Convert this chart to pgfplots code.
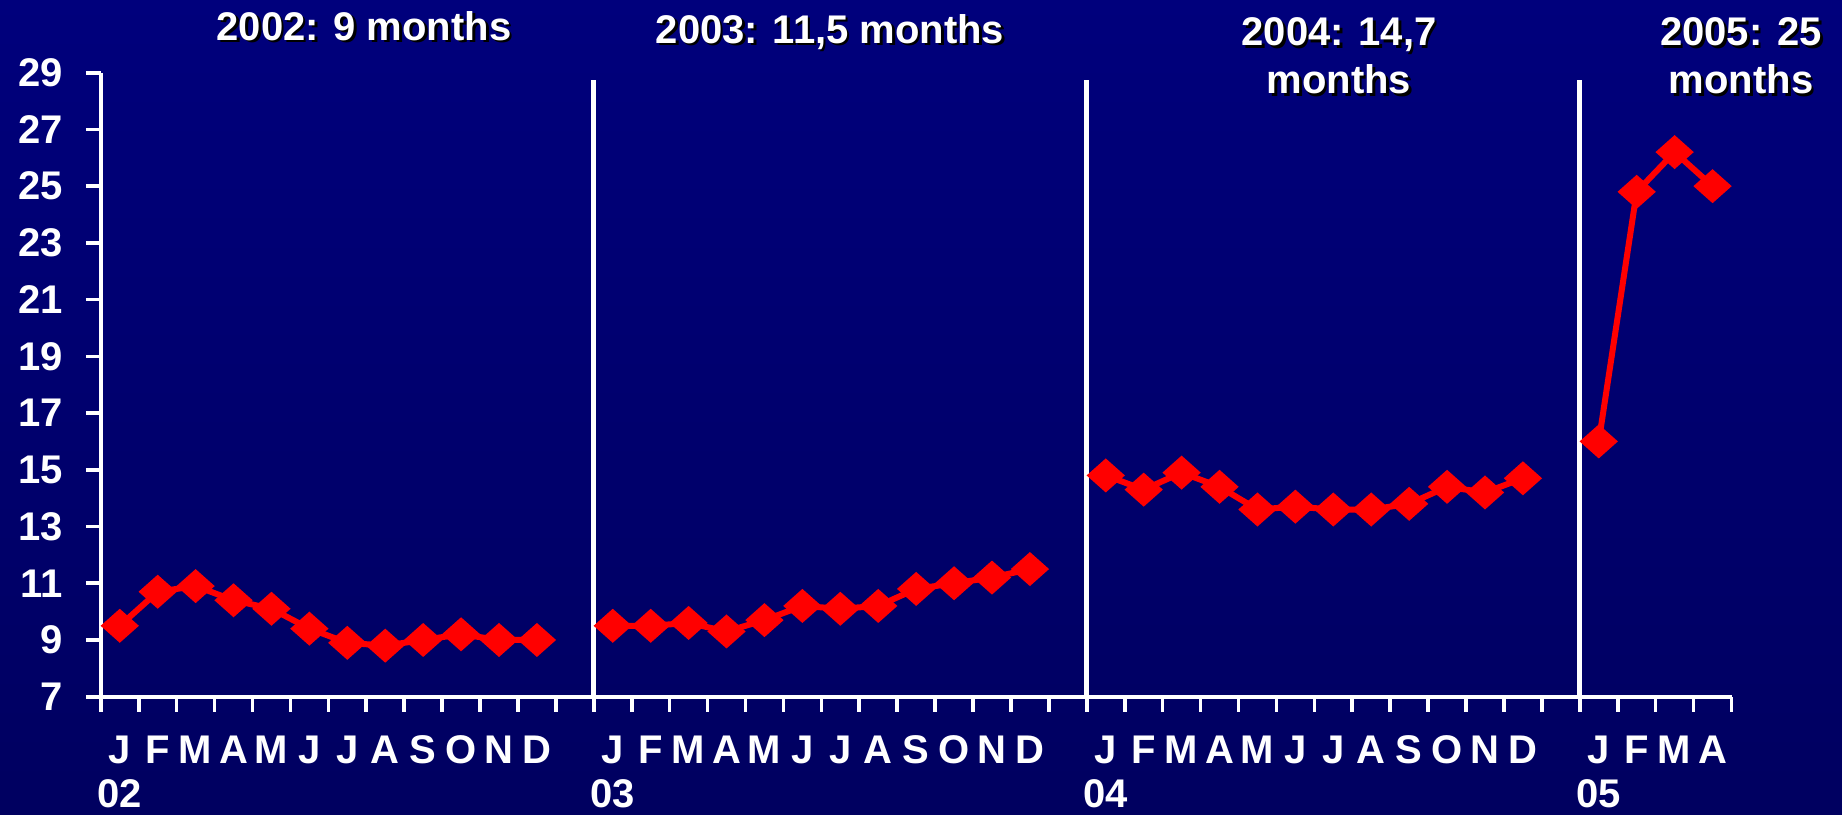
\documentclass[border=0pt]{standalone}
\usepackage{pgfplots}
\pgfplotsset{compat=1.18}
\usepackage{fontspec}
\setmainfont{Liberation Sans}
\definecolor{bgtop}{HTML}{00007C}
\definecolor{bgmid}{HTML}{00009A}
\definecolor{bgbot}{HTML}{000060}
\pgfplotsset{yearline/.style={color=red, line width=3pt, mark=diamond*, mark size=6.5pt, mark options={solid, fill=red, draw=none, xscale=1.5}}}
\newcommand{\titlefont}{\fontsize{20}{24}\selectfont\bfseries}
\newcommand{\shtitle}[2]{%
  \node[font=\titlefont, text=black, align=center, xshift=1.3pt, yshift=-1.3pt] at (#1) {#2};
  \node[font=\titlefont, text=white, align=center] at (#1) {#2};}
\begin{document}
\begin{tikzpicture}
\shade[top color=bgtop, middle color=bgmid, bottom color=bgbot] (0,0) rectangle (921pt,407pt);
\useasboundingbox (0,0) rectangle (921pt,407pt);
\begin{axis}[
  at={(50.4pt,58.65pt)}, anchor=south west,
  width=815.35pt, height=312pt, scale only axis,
  xmin=0, xmax=43, ymin=7, ymax=29,
  axis x line*=bottom, axis y line*=left,
  axis line style={white, line width=2pt, -},
  clip=false,
  ytick={7,9,...,29},
  xtick={0,1,...,43},
  x tick label as interval,
  xticklabels={{J\\02},F,M,A,M,J,J,A,S,O,N,D,{},
               {J\\03},F,M,A,M,J,J,A,S,O,N,D,{},
               {J\\04},F,M,A,M,J,J,A,S,O,N,D,{},
               {J\\05},F,M,A},
  tick align=outside,
  major tick length=7.5pt,
  every tick/.style={white, line width=1.8pt},
  /pgf/number format/assume math mode=true,
  ticklabel style={text=white},
  yticklabel style={font=\fontsize{20}{22}\selectfont\bfseries, xshift=-8pt},
  xticklabel style={font=\fontsize{20}{22}\selectfont\bfseries, align=center, yshift=-8.5pt},
]
\draw[white, line width=2.5pt] (axis cs:13,7) -- (axis cs:13,28.75);
\draw[white, line width=2.5pt] (axis cs:26,7) -- (axis cs:26,28.75);
\draw[white, line width=2.5pt] (axis cs:39,7) -- (axis cs:39,28.75);
\addplot[yearline] coordinates {(0.5,9.5) (1.5,10.7) (2.5,10.9) (3.5,10.4) (4.5,10.1) (5.5,9.4) (6.5,8.9) (7.5,8.8) (8.5,9.0) (9.5,9.2) (10.5,9.0) (11.5,9.0)};
\addplot[yearline] coordinates {(13.5,9.5) (14.5,9.5) (15.5,9.6) (16.5,9.3) (17.5,9.7) (18.5,10.2) (19.5,10.1) (20.5,10.2) (21.5,10.8) (22.5,11.0) (23.5,11.2) (24.5,11.5)};
\addplot[yearline] coordinates {(26.5,14.8) (27.5,14.3) (28.5,14.9) (29.5,14.4) (30.5,13.6) (31.5,13.7) (32.5,13.6) (33.5,13.6) (34.5,13.8) (35.5,14.4) (36.5,14.2) (37.5,14.7)};
\addplot[yearline] coordinates {(39.5,16.0) (40.5,24.8) (41.5,26.2) (42.5,25.0)};
\end{axis}
\shtitle{182pt,394pt}{2002: 9 months}
\shtitle{415pt,391pt}{2003: 11,5 months}
\shtitle{669.5pt,379pt}{2004: 14,7\\months}
\shtitle{870.5pt,379pt}{2005: 25\\months}
\end{tikzpicture}
\end{document}
